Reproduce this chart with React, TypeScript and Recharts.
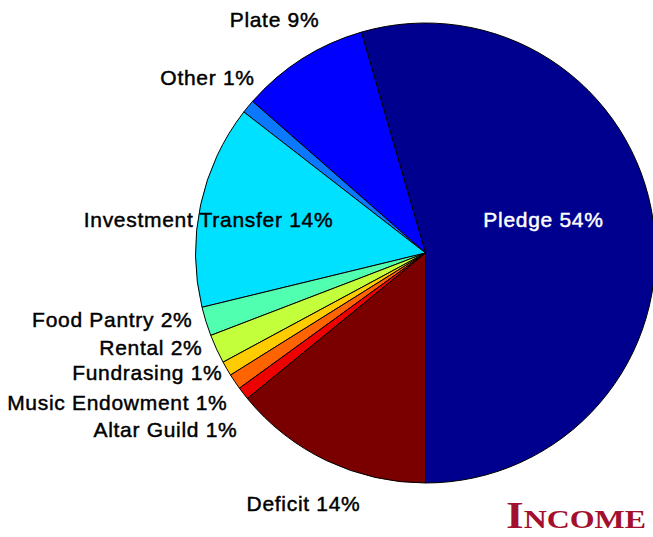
import React from 'react';
import { PieChart, Pie, Cell } from 'recharts';

const categories = [
  'Pledge',
  'Plate',
  'Other',
  'Investment Transfer',
  'Food Pantry',
  'Rental',
  'Fundrasing',
  'Music Endowment',
  'Altar Guild',
  'Deficit',
];
const shares = [54.5, 9.05, 0.95, 14.3, 2.04, 2.04, 1.03, 1.1, 0.9, 14.1];
const percentLabels = ['54%', '9%', '1%', '14%', '2%', '2%', '1%', '1%', '1%', '14%'];
const title = 'Income';

// styling (kept apart from the data)
const colors = [
  '#00008F',
  '#0000FF',
  '#0A78FF',
  '#00E0FF',
  '#50FFB0',
  '#C4FF3C',
  '#FFCC00',
  '#FF6400',
  '#EE0000',
  '#7A0000',
];
// label placement relative to pie centre: [dx, dy (baseline), anchor, fill]
const labelLayout: [number, number, 'start' | 'middle' | 'end', string][] = [
  [118, -26, 'middle', '#FFFFFF'],
  [-151, -226, 'middle', '#000000'],
  [-218, -168, 'middle', '#000000'],
  [-217, -26, 'middle', '#000000'],
  [-233, 74, 'end', '#000000'],
  [-223, 102, 'end', '#000000'],
  [-203, 127, 'end', '#000000'],
  [-198, 157, 'end', '#000000'],
  [-188, 184, 'end', '#000000'],
  [-122, 258, 'middle', '#000000'],
];

const data = categories.map((name, i) => ({
  name,
  value: shares[i],
  text: `${name} ${percentLabels[i]}`,
}));

const renderLabel = (props: any) => {
  const { cx, cy, index } = props;
  const [dx, dy, anchor, fill] = labelLayout[index];
  return (
    <text
      key={`lbl-${index}`}
      x={cx + dx}
      y={cy + dy}
      textAnchor={anchor}
      fill={fill}
      stroke={fill}
      strokeWidth={0.45}
      fontFamily="'Liberation Sans', Arial, Helvetica, sans-serif"
      fontSize={21}
      letterSpacing={0.7}
    >
      {data[index].text}
    </text>
  );
};

export default function App() {
  const first = title.charAt(0).toUpperCase();
  const rest = title.slice(1).toUpperCase();
  return (
    <div style={{ position: 'absolute', left: 0, top: 0, width: 653, height: 537, background: '#fff' }}>
      <PieChart width={653} height={537} margin={{ top: 0, right: 0, bottom: 0, left: 0 }}>
        <Pie
          data={data}
          dataKey="value"
          nameKey="name"
          cx={425.5}
          cy={253}
          outerRadius={230}
          innerRadius={0}
          startAngle={270}
          endAngle={630}
          stroke="#000"
          strokeWidth={1}
          label={renderLabel}
          labelLine={false}
          isAnimationActive={false}
        >
          {data.map((d, i) => (
            <Cell key={d.name} fill={colors[i]} stroke="#000" strokeWidth={1} />
          ))}
        </Pie>
      </PieChart>
      <svg
        width={653}
        height={537}
        style={{ position: 'absolute', left: 0, top: 0, pointerEvents: 'none' }}
      >
        <text
          x={506}
          y={528}
          fill="#A3102E"
          fontFamily="'Liberation Serif', 'Times New Roman', serif"
          fontWeight="bold"
          textLength={140}
          lengthAdjust="spacingAndGlyphs"
        >
          <tspan fontSize={37}>{first}</tspan>
          <tspan fontSize={26}>{rest}</tspan>
        </text>
      </svg>
    </div>
  );
}
